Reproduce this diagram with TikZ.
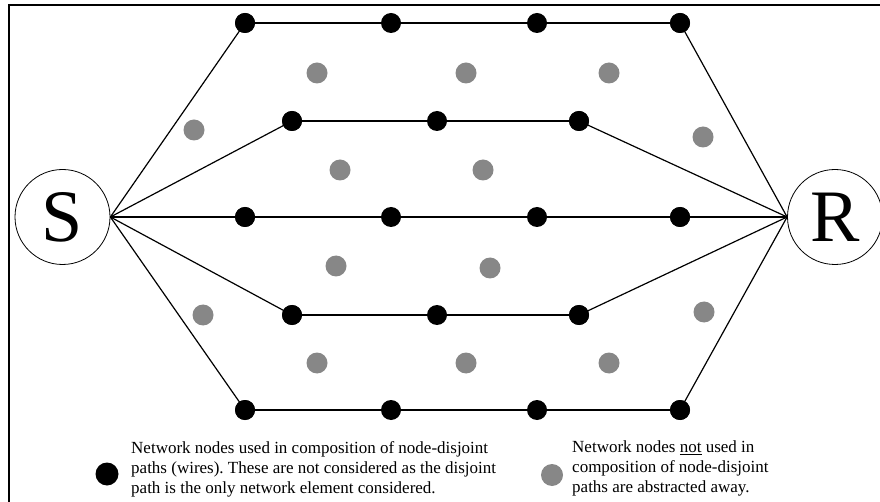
\documentclass[tikz,border=0pt]{standalone}
\usepackage{fontspec}
\setmainfont{Liberation Serif}
\begin{document}
\frenchspacing
\begin{tikzpicture}[x=1pt,y=-1pt,
  used/.style={circle,fill=black,inner sep=0pt,minimum size=20pt},
  unused/.style={circle,fill=black!47,inner sep=0pt,minimum size=21pt},
  endpt/.style={circle,draw,line width=0.8pt,inner sep=0pt,minimum size=95pt,font=\fontsize{74}{74}\selectfont},
  wire/.style={line width=1.2pt},
  legend/.style={anchor=north west,align=left,inner sep=0pt,font=\fontsize{17}{20}\selectfont}]
\useasboundingbox (0,0) rectangle (880,502);
\begin{scope}
\clip (0,0) rectangle (880,502);
\draw[line width=1.4pt] (9,5) rectangle (900,530);
\node[endpt] (S) at (62.5,217) {S};
\node[endpt] (R) at (835,217) {R};
% black nodes
\foreach \n/\x/\y in {a1/245/23,a2/391/23,a3/537/23,a4/680/23,
  b1/292/121,b2/437/121,b3/579/121,
  c1/245/217,c2/391/217,c3/537/217,c4/680/217,
  d1/292/315,d2/437/315,d3/579/315,
  e1/245/410,e2/391/410,e3/537/410,e4/680/410}
  \node[used] (\n) at (\x,\y) {};
% grey nodes
\foreach \n/\x/\y in {g1/317/73,g2/466/73,g3/609/73,g4/194/130,g5/703/137,
  g6/340/170,g7/483/170,g8/336/266,g9/490/268,g10/203/315,g11/704/312,
  g12/317/363,g13/466/363,g14/609/363}
  \node[unused] (\n) at (\x,\y) {};
\foreach \r/\last in {a/4,b/3,c/4,d/3,e/4}{
  \draw[wire] (S.east) -- (\r1.center);
  \draw[wire] (\r\last.center) -- (R.west);
}
\draw[wire] (a1) -- (a2) -- (a3) -- (a4);
\draw[wire] (b1) -- (b2) -- (b3);
\draw[wire] (c1) -- (c2) -- (c3) -- (c4);
\draw[wire] (d1) -- (d2) -- (d3);
\draw[wire] (e1) -- (e2) -- (e3) -- (e4);
% keep end nodes on top of the wires
\foreach \n in {a1,a4,b1,b3,c1,c4,d1,d3,e1,e4}
  \fill (\n) circle (10pt);
% legend
\node[used,minimum size=23pt] (lb) at (107,474) {};
\node[legend] (lt1) at (131,441) {Network nodes used in composition of node-disjoint\\paths (wires). These are not considered as the disjoint\\path is the only network element considered.};
\node[unused,minimum size=22pt] (lg) at (552,475) {};
\node[legend] (lt2) at (572,441) {Network nodes \underline{not} used in\\composition of node-disjoint\\paths are abstracted away.};
\end{scope}
\end{tikzpicture}
\end{document}
